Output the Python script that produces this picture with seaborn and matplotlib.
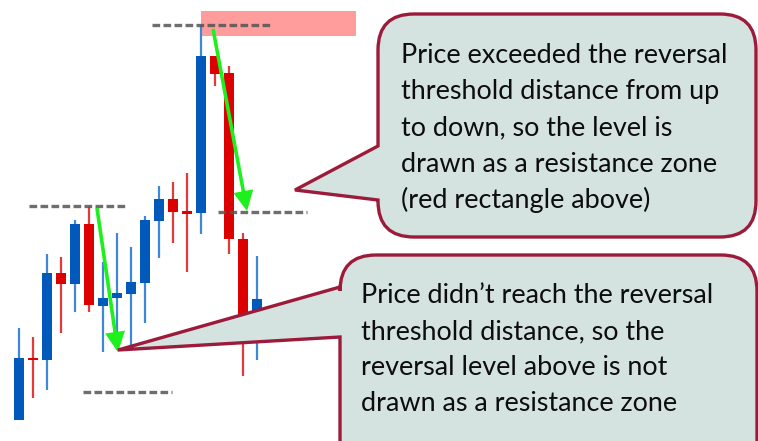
import numpy as np
import pandas as pd
import seaborn as sns
import matplotlib
matplotlib.use("Agg")
import matplotlib.pyplot as plt
from matplotlib.path import Path
from matplotlib.patches import PathPatch, Rectangle, FancyArrowPatch

# ---------------- data ----------------
candle_idx = list(range(18))
opens  = [15, 83, 81, 168, 157, 217, 135, 143, 147, 158, 220, 242, 229, 228, 385, 368, 202, 123]
highs  = [113, 104, 187, 184, 221, 234, 179, 208, 194, 225, 255, 259, 268, 416, 385, 375, 208, 185]
lows   = [15, 43, 51, 108, 129, 129, 89, 91, 94, 118, 183, 198, 169, 207, 355, 187, 65, 81]
closes = [83, 81, 168, 157, 217, 136, 143, 148, 159, 221, 242, 229, 228, 385, 367, 202, 123, 142]

# reversal levels (dashed): price, start index, end index
level_price = [416, 235, 229, 49]
level_start = [9.5, 0.7, 14.2, 4.6]
level_end   = [17.9, 7.6, 20.6, 10.9]

# resistance zone
zone_x = [13.0, 24.1]
zone_y = [405, 430]

# green arrows: (x0, p0) -> (x1, p1)
arrow_from = [(5.57, 233), (13.86, 412)]
arrow_to   = [(7.07, 89), (16.29, 230)]

callout1_lines = ["Price exceeded the reversal",
                  "threshold distance from up",
                  "to down, so the level is",
                  "drawn as a resistance zone",
                  "(red rectangle above)"]
callout2_lines = ["Price didn\u2019t reach the reversal",
                  "threshold distance, so the",
                  "reversal level above is not",
                  "drawn as a resistance zone"]

df = pd.DataFrame({"i": candle_idx, "open": opens, "high": highs,
                   "low": lows, "close": closes})

# ---------------- style ----------------
sns.set_theme(style="white")
plt.rcParams["font.family"] = ["Lato", "DejaVu Sans"]

W, H = 758, 441
fig = plt.figure(figsize=(W / 100, H / 100), dpi=100)
fig.patch.set_facecolor("white")

ax = fig.add_axes([0, 21 / H, 1, 420 / H])
ax.set_xlim(-19 / 14, (W - 19) / 14)
ax.set_ylim(21, 441)
ax.axis("off")

BLUE = "#0059bb"
RED = "#dd0000"
BLUE_W = "#3d88d8"
RED_W = "#e53a3a"

up = df["close"] >= df["open"]
body_colors = np.where(up, BLUE, RED)
wick_colors = np.where(up, BLUE_W, RED_W)

# wicks
ax.vlines(df["i"], df["low"], df["high"], colors=wick_colors, lw=1.6, zorder=2)
# bodies
bottoms = np.minimum(df["open"], df["close"])
heights = np.maximum(np.abs(df["close"] - df["open"]), 2.2)
bottoms = np.where(np.abs(df["close"] - df["open"]) < 2.2,
                   (df["open"] + df["close"]) / 2 - 1.1, bottoms)
ax.bar(df["i"], heights, bottom=bottoms, width=0.74, color=body_colors,
       edgecolor="none", zorder=3)

# resistance zone
ax.add_patch(Rectangle((zone_x[0], zone_y[0]), zone_x[1] - zone_x[0],
                       zone_y[1] - zone_y[0], facecolor="#ff9d9d",
                       edgecolor="none", zorder=1))

# dashed levels
for p, s, e in zip(level_price, level_start, level_end):
    ax.plot([s, e], [p, p], color="#555555", lw=2.4, alpha=0.85,
            dashes=(2.3, 1.0), solid_capstyle="butt", dash_capstyle="butt",
            zorder=4)

# green arrows
for a, b in zip(arrow_from, arrow_to):
    ax.add_patch(FancyArrowPatch(a, b,
                 arrowstyle="simple,head_length=1.45,head_width=1.45,tail_width=0.26",
                 mutation_scale=10, color="#1ef01e", lw=0, zorder=5,
                 shrinkA=0, shrinkB=0))

# ---------------- callouts (pixel overlay) ----------------
ov = fig.add_axes([0, 0, 1, 1], zorder=10)
ov.set_xlim(0, W)
ov.set_ylim(H, 0)
ov.axis("off")
ov.patch.set_alpha(0)


def callout(x0, y0, x1, y1, r, pa, tip, pb):
    verts = [(x0 + r, y0), (x1 - r, y0), (x1, y0), (x1, y0 + r),
             (x1, y1 - r), (x1, y1), (x1 - r, y1),
             (x0 + r, y1), (x0, y1), (x0, y1 - r),
             (x0, pb), tip, (x0, pa),
             (x0, y0 + r), (x0, y0), (x0 + r, y0), (x0 + r, y0)]
    codes = [Path.MOVETO, Path.LINETO, Path.CURVE3, Path.CURVE3,
             Path.LINETO, Path.CURVE3, Path.CURVE3,
             Path.LINETO, Path.CURVE3, Path.CURVE3,
             Path.LINETO, Path.LINETO, Path.LINETO,
             Path.LINETO, Path.CURVE3, Path.CURVE3, Path.CLOSEPOLY]
    ov.add_patch(PathPatch(Path(verts, codes), facecolor="#d5e3e0",
                           edgecolor="#9c1b3b", lw=2.4, joinstyle="miter",
                           zorder=1))


callout(378, 14, 756, 237, 36, 146, (295, 190), 200)
callout(340, 255, 757, 480, 36, 287, (118, 350), 337)

# fit font size to first line width
fig.canvas.draw()
renderer = fig.canvas.get_renderer()


def fit_size(line, target):
    t = ov.text(0, 0, line, fontsize=20)
    w = t.get_window_extent(renderer).width
    t.remove()
    return 20 * target / w


fs = (fit_size(callout1_lines[0], 326) + fit_size(callout2_lines[0], 356)) / 2

for k, line in enumerate(callout1_lines):
    ov.text(401, 63 + 36.2 * k, line, fontsize=fs, color="#0d0d0d",
            va="baseline", ha="left", zorder=2)
for k, line in enumerate(callout2_lines):
    ov.text(361, 303 + 36 * k, line, fontsize=fs, color="#0d0d0d",
            va="baseline", ha="left", zorder=2)

fig.savefig("out.png", dpi=100, facecolor="white")
